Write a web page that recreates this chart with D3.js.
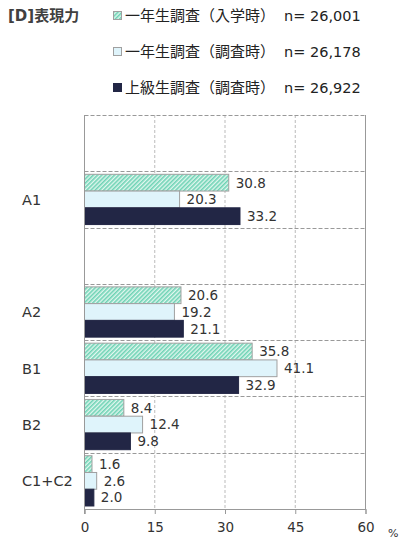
<!DOCTYPE html>
<html>
<head>
<meta charset="utf-8">
<script src="https://cdn.jsdelivr.net/npm/d3@7"></script>
<style>
  body { margin: 0; background: #fff; }
  text { font-family: "DejaVu Sans", "Noto Sans CJK JP", sans-serif; }
</style>
</head>
<body>
<div id="chart"></div>
<script>
const width = 401;
const height = 542;

// rows of the chart, blank rows are kept as empty bands
const categories = ["", "A1", " ", "A2", "B1", "B2", "C1+C2"];
const seriesNames = ["一年生調査（入学時）", "一年生調査（調査時）", "上級生調査（調査時）"];
const seriesN = ["n= 26,001", "n= 26,178", "n= 26,922"];
const entryValues = [null, 30.8, null, 20.6, 35.8, 8.4, 1.6];
const firstYearValues = [null, 20.3, null, 19.2, 41.1, 12.4, 2.6];
const upperValues = [null, 33.2, null, 21.1, 32.9, 9.8, 2.0];
const xTicks = [0, 15, 30, 45, 60];

const series = [entryValues, firstYearValues, upperValues];
const fills = ["url(#hatch)", "#dff4fb", "#222645"];
const strokes = ["#a0a0a0", "#a0a0a0", "#222645"];

const margin = { top: 115, left: 84.5, right: 35.5, bottom: 33 };

const svg = d3.select("#chart").append("svg")
  .attr("width", width)
  .attr("height", height);

// hatch pattern
const pat = svg.append("defs").append("pattern")
  .attr("id", "hatch")
  .attr("patternUnits", "userSpaceOnUse")
  .attr("width", 3)
  .attr("height", 3)
  .attr("patternTransform", "rotate(45)");
pat.append("rect").attr("width", 3).attr("height", 3).attr("fill", "#e2f7ef");
pat.append("rect").attr("width", 1.6).attr("height", 3).attr("fill", "#6fd3b5");

const x = d3.scaleLinear()
  .domain([0, 60])
  .range([margin.left, width - margin.right]);

const y = d3.scaleBand()
  .domain(categories)
  .range([margin.top, height - margin.bottom]);

const inner = d3.scaleBand()
  .domain([0, 1, 2])
  .range([0, y.bandwidth()])
  .paddingOuter(0.18);

// grid
const grid = svg.append("g");
grid.selectAll("line.v")
  .data(xTicks.slice(1, -1))
  .join("line")
  .attr("x1", d => x(d)).attr("x2", d => x(d))
  .attr("y1", margin.top).attr("y2", height - margin.bottom)
  .attr("stroke", "#bbb")
  .attr("stroke-dasharray", "3,2");

grid.selectAll("line.h")
  .data(categories)
  .join("line")
  .attr("x1", x(0)).attr("x2", x(60))
  .attr("y1", d => Math.round(y(d)) + 0.5).attr("y2", d => Math.round(y(d)) + 0.5)
  .attr("stroke", "#999")
  .attr("stroke-dasharray", "4,2");

grid.append("line")
  .attr("x1", x(60)).attr("x2", x(60))
  .attr("y1", margin.top).attr("y2", height - margin.bottom)
  .attr("stroke", "#999");

// bars
series.forEach((vals, s) => {
  const g = svg.append("g");
  const rows = categories.map((c, i) => ({ c, v: vals[i] })).filter(d => d.v != null);
  g.selectAll("rect")
    .data(rows)
    .join("rect")
    .attr("x", x(0))
    .attr("y", d => y(d.c) + inner(s))
    .attr("width", d => x(d.v) - x(0))
    .attr("height", inner.bandwidth())
    .attr("fill", fills[s])
    .attr("stroke", strokes[s])
    .attr("stroke-width", 1);
  g.selectAll("text")
    .data(rows)
    .join("text")
    .attr("x", d => x(d.v) + 7)
    .attr("y", d => y(d.c) + inner(s) + inner.bandwidth() / 2)
    .attr("dy", "0.36em")
    .attr("font-size", 13.5)
    .attr("fill", "#333")
    .text(d => d.v.toFixed(1));
});

// x axis
const xAxis = svg.append("g")
  .attr("transform", `translate(0,${height - margin.bottom})`)
  .call(d3.axisBottom(x).tickValues(xTicks).tickSize(5).tickPadding(8));
xAxis.select(".domain").attr("stroke", "#999");
xAxis.selectAll(".tick line").attr("stroke", "#999");
xAxis.selectAll(".tick text")
  .attr("font-size", 13.5)
  .attr("fill", "#333")
  .style("font-family", "DejaVu Sans, sans-serif");

// left axis line
svg.append("line")
  .attr("x1", x(0)).attr("x2", x(0))
  .attr("y1", margin.top).attr("y2", height - margin.bottom + 5)
  .attr("stroke", "#999");

// category labels
svg.append("g").selectAll("text")
  .data(categories.filter(c => c.trim() !== ""))
  .join("text")
  .attr("x", 22)
  .attr("y", d => y(d) + y.bandwidth() / 2)
  .attr("dy", "0.36em")
  .attr("font-size", 14.5)
  .attr("fill", "#333")
  .text(d => d);

svg.append("text")
  .attr("x", 388)
  .attr("y", 537)
  .attr("font-size", 11)
  .attr("fill", "#333")
  .text("%");

// title
svg.append("text")
  .attr("x", 8)
  .attr("y", 21)
  .attr("font-size", 15)
  .attr("font-weight", "bold")
  .attr("fill", "#404040")
  .text("[D]表現力");

// legend
const legend = svg.append("g");
const legendY = [16, 52, 88];
seriesNames.forEach((name, i) => {
  const row = legend.append("g").attr("transform", `translate(113,${legendY[i]})`);
  row.append("rect")
    .attr("x", 0.5).attr("y", -4.5)
    .attr("width", 8).attr("height", 8)
    .attr("fill", fills[i])
    .attr("stroke", strokes[i]);
  row.append("text")
    .attr("x", 12)
    .attr("dy", "0.36em")
    .attr("font-size", 15)
    .attr("fill", "#222")
    .text(name);
  row.append("text")
    .attr("x", 171)
    .attr("dy", "0.36em")
    .attr("font-size", 14.5)
    .attr("fill", "#222")
    .text(seriesN[i]);
});
</script>
</body>
</html>
